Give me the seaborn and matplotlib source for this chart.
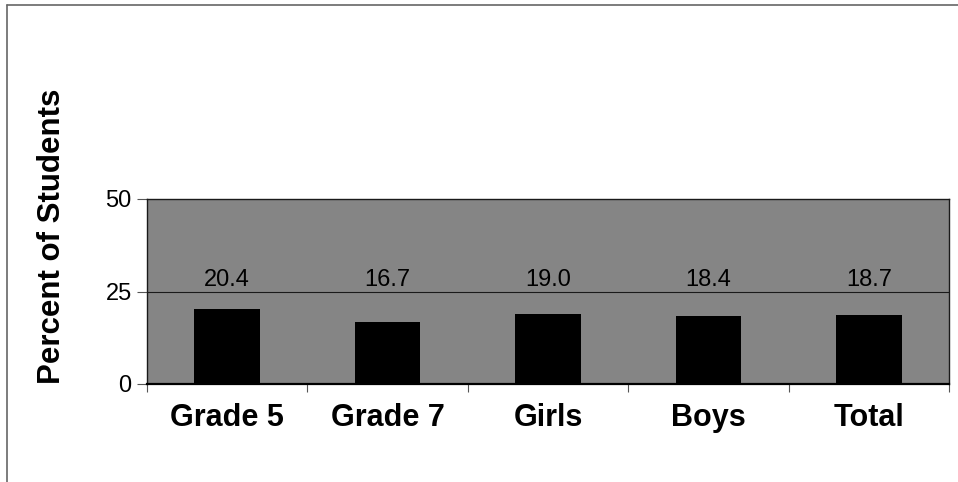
import matplotlib
matplotlib.use("Agg")
import matplotlib.pyplot as plt
from matplotlib.lines import Line2D
import seaborn as sns
import pandas as pd

categories = ["Grade 5", "Grade 7", "Girls", "Boys", "Total"]
percent = [20.4, 16.7, 19.0, 18.4, 18.7]
y_ticks = [0, 25, 50]

sns.set_theme(style="white")
plt.rcParams["font.family"] = ["Liberation Sans", "DejaVu Sans"]
plt.rcParams["text.color"] = "black"
plt.rcParams["xtick.color"] = "black"
plt.rcParams["ytick.color"] = "black"
plt.rcParams["axes.labelcolor"] = "black"

df = pd.DataFrame({"group": categories, "pct": percent})

fig = plt.figure(figsize=(9.58, 4.82), dpi=100)
ax = fig.add_axes([147 / 958, 1 - 384 / 482, (949 - 147) / 958, (384 - 199) / 482])
ax.set_facecolor("#858585")

# reference line at 25
ax.axhline(25, color="#1a1a1a", lw=0.8, zorder=0.5)

sns.barplot(data=df, x="group", y="pct", color="black", width=0.41,
            saturation=1, edgecolor="black", linewidth=0, ax=ax, zorder=2)

ax.set_xlim(-0.5, len(categories) - 0.5)
ax.set_ylim(0, 50)
ax.set_yticks(y_ticks)
ax.set_yticklabels([str(t) for t in y_ticks], fontsize=17, color="black")
ax.tick_params(axis="y", length=7, width=0.8, color="#555555", pad=4, left=True)

ax.set_xticks(range(len(categories)))
ax.set_xticklabels(categories, fontsize=22, fontweight="bold", color="black")
ax.tick_params(axis="x", which="major", length=0, pad=14)
ax.set_xticks([i - 0.5 for i in range(len(categories) + 1)], minor=True)
ax.tick_params(axis="x", which="minor", length=6, width=0.8, color="#555555", bottom=True)

ax.set_xlabel("")
ax.set_ylabel("")

for i, v in enumerate(percent):
    ax.text(i, 28.1, f"{v:.1f}", ha="center", va="center", fontsize=17, color="black")

for s in ax.spines.values():
    s.set_visible(True)
    s.set_color("#1a1a1a")
    s.set_linewidth(1.0)
ax.spines["bottom"].set_linewidth(1.6)
ax.spines["bottom"].set_color("black")

fig.text(52 / 958, 1 - 236 / 482, "Percent of Students", rotation=90,
         ha="center", va="center", fontsize=22.5, fontweight="bold", color="black")

# outer chart frame
fig.add_artist(Line2D([7 / 958, 7 / 958], [0, 1 - 5 / 482], color="#666666", lw=1.2))
fig.add_artist(Line2D([7 / 958, 1], [1 - 5 / 482, 1 - 5 / 482], color="#666666", lw=1.2))

fig.savefig("out.png", dpi=100)
